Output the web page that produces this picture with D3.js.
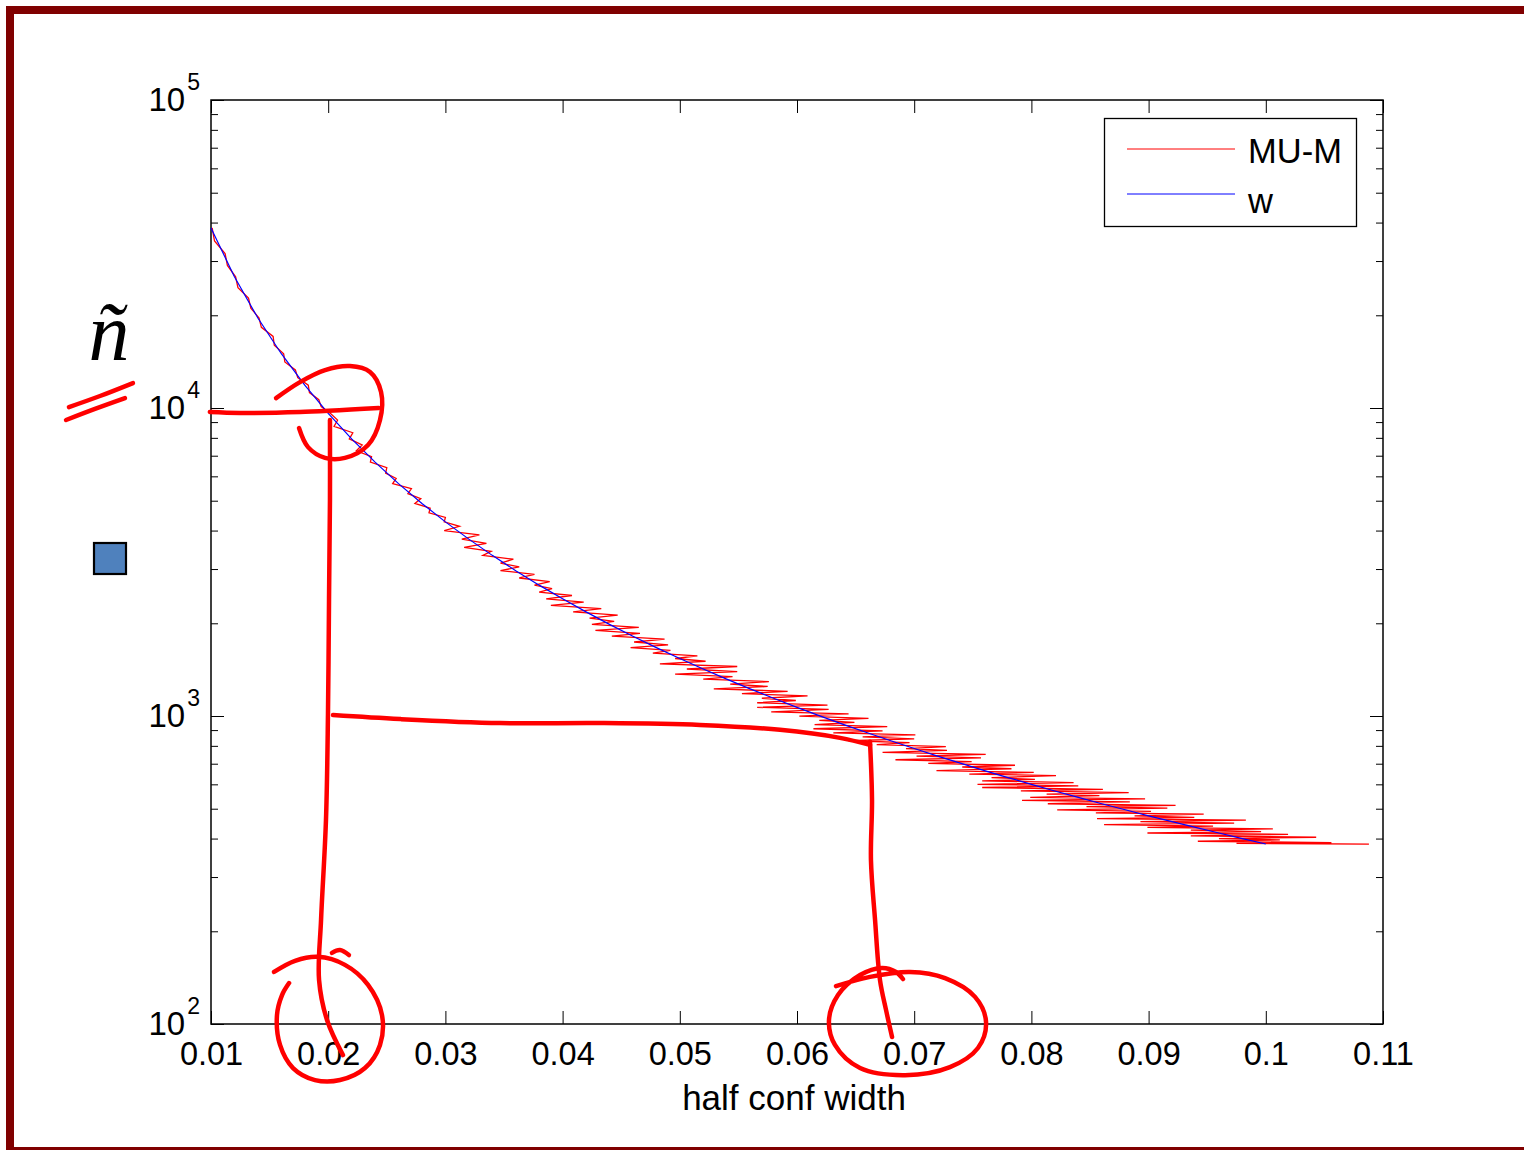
<!DOCTYPE html>
<html>
<head>
<meta charset="utf-8">
<script src="https://cdn.jsdelivr.net/npm/d3@7"></script>
<style>
  body { margin: 0; background: #fff; }
  svg { display: block; font-family: "Liberation Sans", Arial, Helvetica, sans-serif; }
</style>
</head>
<body>
<svg id="chart" width="1524" height="1151"></svg>
<script>
// x ticks / labels
var xTicks = [0.01, 0.02, 0.03, 0.04, 0.05, 0.06, 0.07, 0.08, 0.09, 0.1, 0.11];
var xTickLabels = ["0.01", "0.02", "0.03", "0.04", "0.05", "0.06", "0.07", "0.08", "0.09", "0.1", "0.11"];
var yDecades = [100, 1000, 10000, 100000];
var yExponents = ["2", "3", "4", "5"];

// "w" series (blue): half conf width vs n
var blueW = [0.010, 0.012, 0.014, 0.016, 0.018, 0.020, 0.022, 0.024, 0.026, 0.028,
             0.030, 0.032, 0.034, 0.036, 0.038, 0.040, 0.042, 0.044, 0.046, 0.048,
             0.050, 0.052, 0.054, 0.056, 0.058, 0.060, 0.062, 0.064, 0.066, 0.068,
             0.070, 0.072, 0.074, 0.076, 0.078, 0.080, 0.082, 0.084, 0.086, 0.088,
             0.090, 0.092, 0.094, 0.096, 0.098, 0.100];
var blueN = [38416, 26678, 19600, 15006, 11857, 9604, 7937, 6669, 5683, 4900,
             4268, 3752, 3323, 2964, 2660, 2401, 2178, 1984, 1816, 1667,
             1537, 1421, 1317, 1225, 1142, 1067, 999, 938, 882, 831,
             784, 741, 702, 665, 631, 600, 571, 544, 519, 496,
             474, 454, 435, 417, 400, 384];

// "MU-M" series (red), noisy estimate
var redW = [0.0101, 0.0103, 0.0112, 0.0114, 0.0121, 0.0123, 0.0132, 0.0134, 0.0141, 0.0143, 0.0153, 0.0154, 0.0162, 0.0163, 0.0172, 0.0174, 0.0183, 0.0184, 0.0192, 0.0194, 0.0202,
            0.0208, 0.0205, 0.0221, 0.0218, 0.0229, 0.0224, 0.0237, 0.0236, 0.0250, 0.0249, 0.0258, 0.0255, 0.0271, 0.0268, 0.0279, 0.0274, 0.0287, 0.0286, 0.0300, 0.0299,
            0.0312, 0.0299, 0.0329, 0.0314, 0.0335, 0.0316, 0.0339, 0.0332, 0.0358, 0.0347, 0.0363, 0.0347, 0.0376, 0.0363, 0.0389, 0.0376, 0.0391, 0.0380, 0.0408, 0.0386,
            0.0418, 0.0390, 0.0433, 0.0409, 0.0447, 0.0423, 0.0444, 0.0425, 0.0465, 0.0428, 0.0466, 0.0442, 0.0487, 0.0461, 0.0490, 0.0458, 0.0492, 0.0477, 0.0515, 0.0496,
            0.0522, 0.0483, 0.0549, 0.0506, 0.0549, 0.0496, 0.0545, 0.0520, 0.0576, 0.0543, 0.0575, 0.0529, 0.0592, 0.0553, 0.0609, 0.0570, 0.0599, 0.0566, 0.0626, 0.0566,
            0.0627, 0.0578, 0.0644, 0.0602, 0.0661, 0.0619, 0.0649, 0.0615, 0.0677, 0.0614, 0.0673, 0.0631, 0.0701, 0.0656, 0.0700, 0.0644, 0.0696, 0.0668, 0.0727, 0.0693,
            0.0728, 0.0673, 0.0761, 0.0702, 0.0757, 0.0684, 0.0749, 0.0712, 0.0786, 0.0741, 0.0783, 0.0719, 0.0802, 0.0747, 0.0821, 0.0766, 0.0803, 0.0758, 0.0836, 0.0754,
            0.0840, 0.0758, 0.0861, 0.0791, 0.0883, 0.0813, 0.0858, 0.0799, 0.0897, 0.0792, 0.0884, 0.0814, 0.0923, 0.0847, 0.0916, 0.0822, 0.0902, 0.0855, 0.0947, 0.0888,
            0.0939, 0.0856, 0.0983, 0.0893, 0.0973, 0.0862, 0.0955, 0.0899, 0.1006, 0.0936, 0.0996, 0.0899, 0.1019, 0.0936, 0.1043, 0.0960, 0.1012, 0.0942, 0.1056, 0.0975, 0.1088];
var redN = [38416, 34844, 31749, 29047, 26678, 24586, 22731, 21079, 19600, 18271, 17074, 15990, 15006, 14111, 13293, 12544, 11857, 11225, 10642, 10103, 9604,
            9141, 8711, 8311, 7937, 7588, 7262, 6956, 6669, 6400, 6147, 5908, 5683, 5470, 5270, 5080, 4900, 4730, 4568, 4414, 4268,
            4130, 3998, 3872, 3752, 3637, 3528, 3423, 3323, 3228, 3136, 3048, 2964, 2884, 2806, 2732, 2660, 2592, 2526, 2462, 2401,
            2342, 2285, 2231, 2178, 2127, 2078, 2030, 1984, 1940, 1897, 1856, 1816, 1777, 1739, 1703, 1667, 1633, 1600, 1568, 1537,
            1506, 1477, 1448, 1421, 1394, 1368, 1342, 1317, 1293, 1270, 1247, 1225, 1203, 1182, 1162, 1142, 1123, 1104, 1085, 1067,
            1050, 1032, 1016, 999, 983, 968, 953, 938, 923, 909, 895, 882, 869, 856, 843, 831, 819, 807, 795, 784,
            773, 762, 751, 741, 731, 721, 711, 702, 692, 683, 674, 665, 656, 648, 640, 631, 623, 616, 608, 600,
            593, 586, 578, 571, 564, 558, 551, 544, 538, 532, 526, 519, 513, 508, 502, 496, 490, 485, 480, 474,
            469, 464, 459, 454, 449, 444, 439, 435, 430, 426, 421, 417, 413, 408, 404, 400, 396, 392, 388, 386, 384];

var seriesNames = ["MU-M", "w"];

// hand-drawn ink on the slide, in data units [w, log10(n)]
var inkStrokes = [
   [[0.0099, 3.987], [0.0125, 3.984], [0.0176, 3.987], [0.0243, 4.0]],
   [[0.01555, 4.032], [0.01759, 4.084], [0.01973, 4.123], [0.02186, 4.136], [0.02357, 4.117], [0.02451, 4.052],
    [0.02442, 3.961], [0.0234, 3.880], [0.02143, 3.838], [0.01973, 3.838], [0.01828, 3.873], [0.01751, 3.935]],
   [[0.02015, 3.961], [0.02015, 3.701], [0.02007, 3.377], [0.01998, 3.003], [0.01981, 2.662], [0.01939, 2.338],
    [0.01922, 2.143], [0.0199, 2.013], [0.02126, 1.899]],
   [[0.02041, 3.003], [0.02613, 2.990], [0.03466, 2.977], [0.04319, 2.977], [0.05172, 2.971], [0.05855, 2.955],
    [0.06367, 2.929], [0.06623, 2.906]],
   [[0.06623, 2.916], [0.0664, 2.727], [0.06631, 2.532], [0.06666, 2.338], [0.06708, 2.143], [0.0676, 2.045], [0.06811, 1.958]],
   [[0.06333, 2.123], [0.06623, 2.153], [0.06964, 2.169], [0.07263, 2.149], [0.07519, 2.088], [0.07613, 2.006],
    [0.07544, 1.922], [0.07305, 1.860], [0.06922, 1.834], [0.06538, 1.857], [0.06324, 1.932], [0.06273, 2.013],
    [0.0635, 2.094], [0.06538, 2.159], [0.06725, 2.182], [0.06845, 2.169], [0.06904, 2.146]],
   [[0.01538, 2.169], [0.01717, 2.205], [0.01913, 2.218], [0.02143, 2.192], [0.0234, 2.127], [0.02459, 2.029],
    [0.02442, 1.932], [0.02314, 1.857], [0.02101, 1.818], [0.01887, 1.818], [0.017, 1.857], [0.01589, 1.932],
    [0.01563, 2.029], [0.01606, 2.094], [0.01666, 2.133]],
   [[0.02032, 2.231], [0.021, 2.240], [0.02177, 2.224]],
   [[-0.00212, 4.003], [0.00053, 4.039], [0.00334, 4.081]],
   [[-0.00237, 3.961], [0.0001, 3.997], [0.00266, 4.032]]
];

var svg = d3.select("#chart");

// slide frame
var frame = "#800000";
svg.append("rect").attr("x", 6).attr("y", 6).attr("width", 1518).attr("height", 8).attr("fill", frame);
svg.append("rect").attr("x", 6).attr("y", 6).attr("width", 8).attr("height", 1144).attr("fill", frame);
svg.append("rect").attr("x", 6).attr("y", 1147).attr("width", 1518).attr("height", 3).attr("fill", frame);

var x = d3.scaleLinear().domain([0.01, 0.11]).range([211, 1383]);
var y = d3.scaleLog().domain([100, 1e5]).range([1024, 100]);

var yMinor = [];
yDecades.slice(0, 3).forEach(function(d) {
   for (var k = 2; k <= 9; k++) yMinor.push(d * k);
});

function styleAxis(g) {
   g.select(".domain").remove();
   g.selectAll(".tick line").attr("stroke", "#000").attr("stroke-width", 1);
   g.attr("font-family", null).attr("font-size", null);
}

// bottom axis with labels
svg.append("g").attr("transform", "translate(0,1024)")
   .call(d3.axisBottom(x).tickValues(xTicks).tickFormat(function(d, i) { return xTickLabels[i]; })
      .tickSizeInner(-13).tickSizeOuter(0).tickPadding(18))
   .call(styleAxis)
   .selectAll("text").attr("font-size", 32.5).attr("fill", "#000");
svg.append("g").attr("transform", "translate(0,100)")
   .call(d3.axisTop(x).tickValues(xTicks).tickFormat("").tickSizeInner(-13).tickSizeOuter(0))
   .call(styleAxis);

// y axes, majors and minors, both sides
svg.append("g").attr("transform", "translate(211,0)")
   .call(d3.axisLeft(y).tickValues(yDecades).tickFormat("").tickSizeInner(-13).tickSizeOuter(0)).call(styleAxis);
svg.append("g").attr("transform", "translate(211,0)")
   .call(d3.axisLeft(y).tickValues(yMinor).tickFormat("").tickSizeInner(-7).tickSizeOuter(0)).call(styleAxis);
svg.append("g").attr("transform", "translate(1383,0)")
   .call(d3.axisRight(y).tickValues(yDecades).tickFormat("").tickSizeInner(-13).tickSizeOuter(0)).call(styleAxis);
svg.append("g").attr("transform", "translate(1383,0)")
   .call(d3.axisRight(y).tickValues(yMinor).tickFormat("").tickSizeInner(-7).tickSizeOuter(0)).call(styleAxis);

// y labels 10^k
yDecades.forEach(function(d, i) {
   var t = svg.append("text")
      .attr("x", 200).attr("y", y(d) + 11)
      .attr("text-anchor", "end").attr("fill", "#000");
   t.append("tspan").attr("font-size", 33).text("10");
   t.append("tspan").attr("font-size", 23).attr("dx", 2).attr("dy", -21).text(yExponents[i]);
});

// plot box
svg.append("rect")
   .attr("x", x(0.01)).attr("y", y(1e5))
   .attr("width", x(0.11) - x(0.01)).attr("height", y(100) - y(1e5))
   .attr("fill", "none").attr("stroke", "#000").attr("stroke-width", 1.5);

svg.append("text").attr("x", 794).attr("y", 1110).attr("text-anchor", "middle")
   .attr("font-size", 35).attr("fill", "#000").text("half conf width");

// data lines
var line = d3.line().x(function(d) { return x(d[0]); }).y(function(d) { return y(d[1]); });
svg.append("path").datum(d3.zip(redW, redN))
   .attr("d", line).attr("fill", "none").attr("stroke", "#ff0000").attr("stroke-width", 1.3);
svg.append("path").datum(d3.zip(blueW, blueN))
   .attr("d", line).attr("fill", "none").attr("stroke", "#0000ff").attr("stroke-width", 1.2);

// legend
var lg = svg.append("g");
lg.append("rect").attr("x", 1104.5).attr("y", 118.5).attr("width", 252).attr("height", 108)
   .attr("fill", "#fff").attr("stroke", "#000").attr("stroke-width", 1.3);
[["#ff0000", 149], ["#0000ff", 194]].forEach(function(s, i) {
   lg.append("line").attr("x1", 1127).attr("x2", 1235).attr("y1", s[1]).attr("y2", s[1])
      .attr("stroke", s[0]).attr("stroke-width", 1);
   lg.append("text").attr("x", 1248).attr("y", i === 0 ? 163 : 213)
      .attr("font-size", 34.5).attr("fill", "#000").text(seriesNames[i]);
});

// slide decorations: n-tilde symbol and blue square
svg.append("text").attr("x", 109).attr("y", 360).attr("text-anchor", "middle")
   .style("font-family", "'Liberation Serif', 'Times New Roman', serif")
   .style("font-style", "italic").style("font-size", "82px").attr("fill", "#000").text("\u00f1");
svg.append("rect").attr("x", 94).attr("y", 543).attr("width", 32).attr("height", 31)
   .attr("fill", "#4f81bd").attr("stroke", "#000").attr("stroke-width", 2.2);

// hand-drawn red ink
var ink = d3.line()
   .x(function(d) { return x(d[0]); })
   .y(function(d) { return y(Math.pow(10, d[1])); })
   .curve(d3.curveCatmullRom);
svg.append("g").selectAll("path").data(inkStrokes).join("path")
   .attr("d", ink).attr("fill", "none").attr("stroke", "#ff0000")
   .attr("stroke-width", 4.5).attr("stroke-linecap", "round").attr("stroke-linejoin", "round");
</script>
</body>
</html>
